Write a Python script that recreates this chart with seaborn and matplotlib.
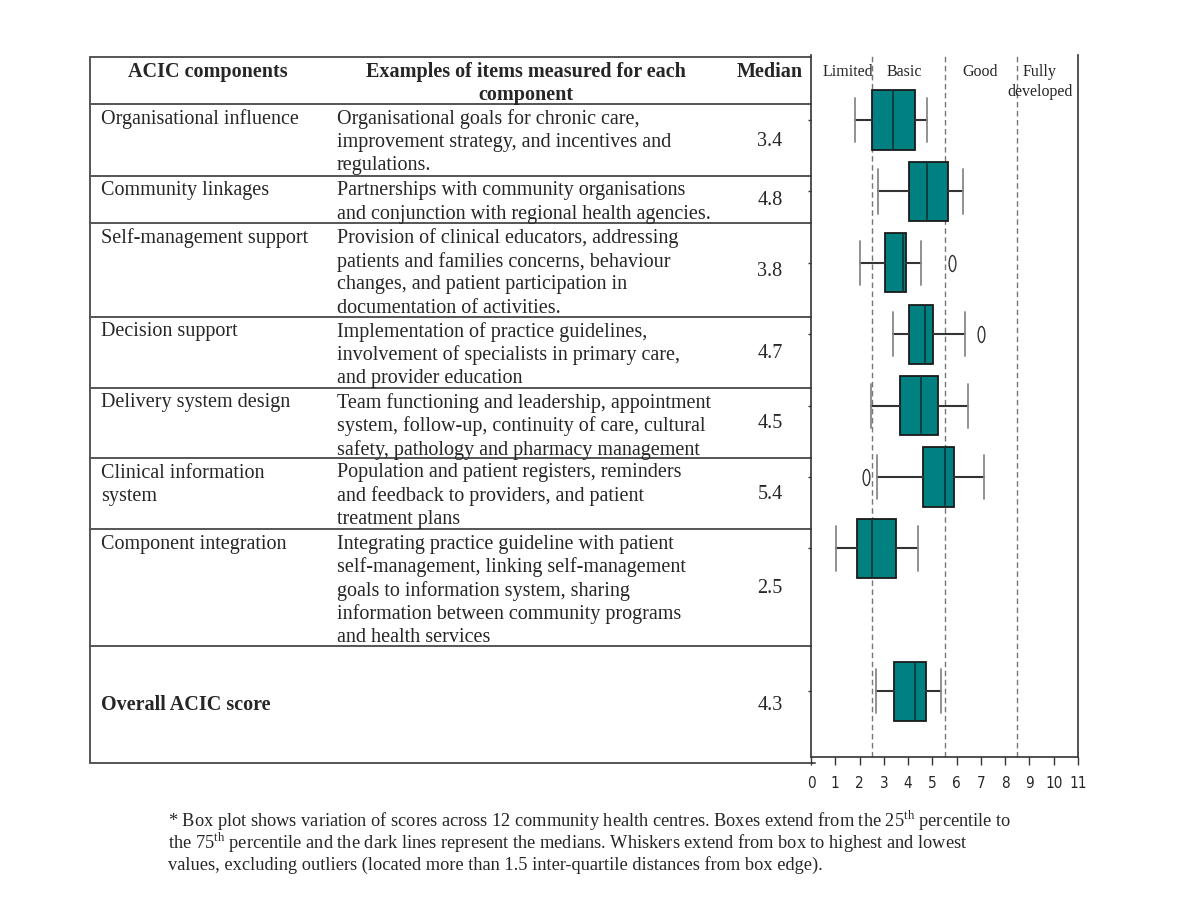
import matplotlib
matplotlib.use("Agg")
import matplotlib.pyplot as plt
from matplotlib.path import Path
from matplotlib.transforms import Affine2D
import seaborn as sns

# table content
components = ["Organisational influence", "Community linkages", "Self-management support",
              "Decision support", "Delivery system design", "Clinical information\nsystem",
              "Component integration", "Overall ACIC score"]
examples = [
    "Organisational goals for chronic care,\nimprovement strategy, and incentives and\nregulations.",
    "Partnerships with community organisations\nand conjunction with regional health agencies.",
    "Provision of clinical educators, addressing\npatients and families concerns, behaviour\n"
    "changes, and patient participation in\ndocumentation of activities.",
    "Implementation of practice guidelines,\ninvolvement of specialists in primary care,\nand provider education",
    "Team functioning and leadership, appointment\nsystem, follow-up, continuity of care, cultural\n"
    "safety, pathology and pharmacy management",
    "Population and patient registers, reminders\nand feedback to providers, and patient\ntreatment plans",
    "Integrating practice guideline with patient\nself-management, linking self-management\n"
    "goals to information system, sharing\ninformation between community programs\nand health services",
    "",
]
median_text = ["3.4", "4.8", "3.8", "4.7", "4.5", "5.4", "2.5", "4.3"]

# box plot statistics
positions = [0, 1, 2, 3, 4, 5, 6, 8]
whislo = [1.80, 2.77, 2.02, 3.36, 2.48, 2.71, 1.03, 2.66]
q1 = [2.52, 4.04, 3.03, 4.04, 3.65, 4.60, 1.91, 3.40]
box_med = [3.37, 4.77, 3.77, 4.70, 4.52, 5.51, 2.53, 4.30]
q3 = [4.28, 5.63, 3.91, 5.03, 5.25, 5.91, 3.51, 4.75]
whishi = [4.79, 6.27, 4.52, 6.35, 6.46, 7.11, 4.41, 5.36]
outliers = [[], [], [5.79], [7.01], [], [2.27], [], []]

levels = ["Limited", "Basic", "Good", "Fully\ndeveloped"]
level_x = [1.53, 3.84, 6.98, 9.42]
cutoffs = [2.5, 5.5, 8.5]
xticks = list(range(12))

sns.set_theme(style="white")
plt.rcParams["font.family"] = ["Liberation Serif", "DejaVu Serif"]
plt.rcParams["mathtext.fontset"] = "custom"
plt.rcParams["mathtext.rm"] = "Liberation Serif"

fig = plt.figure(figsize=(12, 9.16), dpi=100)

# overlay in pixel units for the table
tab = fig.add_axes([0, 0, 1, 1])
tab.set_xlim(0, 1200)
tab.set_ylim(916, 0)
tab.axis("off")

line_col = "#555555"
row_edges = [57.3, 104.3, 175.7, 223.3, 316.7, 388, 458, 529, 645.7, 762.7]
for i, yy in enumerate(row_edges):
    tab.plot([90, 815 if i == len(row_edges) - 1 else 811], [yy, yy], color=line_col, lw=1.4)
tab.plot([90.3, 90.3], [57.3, 762.7], color=line_col, lw=1.4)

fs = 14.5
tab.text(208, 72, "ACIC components", ha="center", va="center", fontsize=fs, fontweight="bold")
tab.text(526, 72, "Examples of items measured for each", ha="center", va="center", fontsize=fs, fontweight="bold")
tab.text(526, 95, "component", ha="center", va="center", fontsize=fs, fontweight="bold")
tab.text(770, 72, "Median", ha="center", va="center", fontsize=fs, fontweight="bold")

step = 23.3
for i in range(len(components)):
    top, bot = row_edges[i + 1], row_edges[i + 2]
    if i == len(components) - 1:
        tab.text(101, (top + bot) / 2 + 1, components[i], ha="left", va="center",
                 fontsize=fs, fontweight="bold")
    else:
        for j, ln in enumerate(components[i].split("\n")):
            tab.text(101, top + 15 + j * step, ln, ha="left", va="center", fontsize=fs)
        for j, ln in enumerate(examples[i].split("\n")):
            tab.text(337, top + 15 + j * step, ln, ha="left", va="center", fontsize=fs)
    tab.text(770, (top + bot) / 2 + 1, median_text[i], ha="center", va="center", fontsize=fs)

note = ["* Box plot shows variation of scores across 12 community health centres. Boxes extend from the 25$^{\\mathrm{th}}$ percentile to",
        "the 75$^{\\mathrm{th}}$ percentile and the dark lines represent the medians. Whiskers extend from box to highest and lowest",
        "values, excluding outliers (located more than 1.5 inter-quartile distances from box edge)."]
for j, ln in enumerate(note):
    tab.text(168, 821 + j * 22, ln, ha="left", va="center", fontsize=13.2)

# box plot panel
ax = fig.add_axes([811 / 1200, 1 - 757 / 916, 267 / 1200, 702 / 916])
stats = []
for k in range(len(positions)):
    stats.append(dict(whislo=whislo[k], q1=q1[k], med=box_med[k], q3=q3[k],
                      whishi=whishi[k], fliers=outliers[k]))

ellipse = Path.unit_circle().transformed(Affine2D().scale(0.42, 1))
ax.bxp(stats, positions=positions, orientation="horizontal", widths=0.83, capwidths=0.62,
       patch_artist=True,
       boxprops=dict(facecolor="#008080", edgecolor="#1a1a1a", linewidth=1.3),
       whiskerprops=dict(color="#333333", linewidth=1.5),
       capprops=dict(color="#888888", linewidth=1.3),
       medianprops=dict(color="#0b3535", linewidth=1.2),
       flierprops=dict(marker=ellipse, markerfacecolor="none", markeredgecolor="#333333",
                       markersize=11.5, markeredgewidth=1.0))

for c in cutoffs:
    ax.axvline(c, color="#777777", ls=(0, (4, 2.5)), lw=1.0, zorder=0.5)

for lx, lab in zip(level_x, levels):
    ax.text(lx, -0.78, lab, ha="center", va="top", fontsize=11.5, linespacing=1.35)

ax.set_xlim(0, 11)
ax.set_ylim(8.92, -0.91)
ax.set_xticks(xticks)
ax.set_xticklabels([str(t) for t in xticks], family="DejaVu Sans", fontsize=11, fontstretch="condensed")
ax.set_yticks(positions)
ax.set_yticklabels([])
ax.tick_params(axis="x", direction="out", length=6, width=1, color="#333333", pad=8, bottom=True)
ax.tick_params(axis="y", direction="out", length=2, width=1, color="#333333", left=True)
for s in ["left", "right", "bottom"]:
    ax.spines[s].set_visible(True)
    ax.spines[s].set_color("#333333")
    ax.spines[s].set_linewidth(1.2)
ax.spines["top"].set_visible(False)
ax.set_facecolor("none")

fig.savefig("out.png", dpi=100, facecolor="white")
